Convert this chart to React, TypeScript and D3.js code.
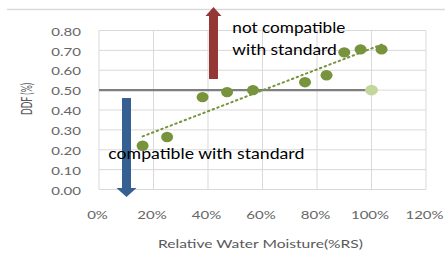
import React from "react";
import * as d3 from "d3";

// measured samples
const moisture = [16, 25, 38, 47, 56.5, 75.6, 83.5, 90, 96, 103.7];
const ddf = [0.22, 0.264, 0.465, 0.49, 0.5, 0.54, 0.575, 0.69, 0.705, 0.705];

// standard limit line
const standardX = [0, 100];
const standardY = [0.5, 0.5];

const xTicks = [0, 20, 40, 60, 80, 100, 120];
const yTicks = [0, 0.1, 0.2, 0.3, 0.4, 0.5, 0.6, 0.7, 0.8];

const W = 445;
const H = 279;
const font = "Lato, 'Open Sans', sans-serif";
const SX = 1.25; // picture is stretched sideways

export default function App() {
  const x = d3.scaleLinear().domain([0, 120]).range([99, 426]);
  const y = d3.scaleLinear().domain([0, 0.8]).range([189.5, 30.5]);

  // linear trendline (least squares) over the data range
  const mx = d3.mean(moisture)!;
  const my = d3.mean(ddf)!;
  const slope =
    d3.sum(moisture, (v, i) => (v - mx) * (ddf[i] - my)) /
    d3.sum(moisture, (v) => (v - mx) ** 2);
  const trend = (v: number) => my + slope * (v - mx);
  const [x0, x1] = d3.extent(moisture) as [number, number];

  const stdLine = d3
    .line<number>()
    .x((d) => x(d))
    .y((_, i) => y(standardY[i]))(standardX) as string;

  const upArrow = (cx: number, top: number, bottom: number) =>
    `M${cx - 4.5},${bottom}L${cx - 4.5},${top + 9}L${cx - 8},${top + 9}L${cx},${top}L${cx + 8},${top + 9}L${cx + 4.5},${top + 9}L${cx + 4.5},${bottom}Z`;
  const downArrow = (cx: number, top: number, bottom: number) =>
    `M${cx - 4.5},${top}L${cx - 4.5},${bottom - 9}L${cx - 10},${bottom - 9}L${cx},${bottom}L${cx + 10},${bottom - 9}L${cx + 4.5},${bottom - 9}L${cx + 4.5},${top}Z`;

  return (
    <svg width={W} height={H} style={{ position: "absolute", left: 0, top: 0, background: "#fff" }}>
      <line x1={7} x2={W} y1={9.5} y2={9.5} stroke="#d9d9d9" strokeWidth={1.5} />

      {/* gridlines */}
      {yTicks.map((t) => (
        <line key={"gy" + t} x1={x(0)} x2={x(120)} y1={y(t)} y2={y(t)} stroke="#d9d9d9" strokeWidth={1} />
      ))}
      {xTicks.map((t) => (
        <line key={"gx" + t} x1={x(t)} x2={x(t)} y1={y(0)} y2={y(0.8)} stroke="#d9d9d9" strokeWidth={1} />
      ))}

      {/* tick labels */}
      {yTicks.map((t) => (
        <g key={"ly" + t} transform={`translate(81,${y(t) + 1}) scale(${SX},1)`}>
          <text dy="0.35em" textAnchor="end" fontFamily={font} fontSize={12} fill="#666">
            {t.toFixed(2)}
          </text>
        </g>
      ))}
      {xTicks.map((t) => (
        <g key={"lx" + t} transform={`translate(${x(t) - 1.5},215) scale(${SX},1)`}>
          <text dy="0.35em" textAnchor="middle" fontFamily={font} fontSize={12} fill="#666">
            {t}%
          </text>
        </g>
      ))}
      <g transform={`translate(27,99) scale(${SX},1) rotate(-90)`}>
        <text textAnchor="middle" dy="0.35em" fontFamily={font} fontSize={11.5} fill="#595959" textLength={32} lengthAdjust="spacingAndGlyphs">
          DDF (%)
        </text>
      </g>
      <text x={158} y={247.5} fontFamily={font} fontSize={12} fill="#595959" textLength={205} lengthAdjust="spacingAndGlyphs">
        Relative Water Moisture(%RS)
      </text>

      {/* standard line */}
      <path d={stdLine} stroke="#7f7f7f" strokeWidth={2.2} fill="none" />
      <ellipse cx={x(standardX[1])} cy={y(standardY[1])} rx={6.5} ry={5.3} fill="#c3d69b" />

      {/* trendline */}
      <line
        x1={x(x0)}
        x2={x(x1)}
        y1={y(trend(x0))}
        y2={y(trend(x1))}
        stroke="#77933c"
        strokeWidth={2}
        strokeDasharray="1.5,3.5"
        strokeLinecap="round"
      />

      {/* points */}
      {moisture.map((m, i) => (
        <ellipse key={i} cx={x(m)} cy={y(ddf[i])} rx={6} ry={5.2} fill="#77933c" />
      ))}

      {/* arrows */}
      <path d={upArrow(213.5, 7, 79)} fill="#953735" />
      <path d={downArrow(126.5, 98, 197)} fill="#376092" />

      <text x={232.3} y={32.5} fontFamily={font} fontSize={15} fill="#000" textLength={113} lengthAdjust="spacingAndGlyphs">
        not compatible
      </text>
      <text x={232.3} y={54.5} fontFamily={font} fontSize={15} fill="#000" textLength={104.5} lengthAdjust="spacingAndGlyphs">
        with standard
      </text>
      <text x={108.3} y={159} fontFamily={font} fontSize={15} fill="#000" textLength={196} lengthAdjust="spacingAndGlyphs">
        compatible with standard
      </text>
    </svg>
  );
}
